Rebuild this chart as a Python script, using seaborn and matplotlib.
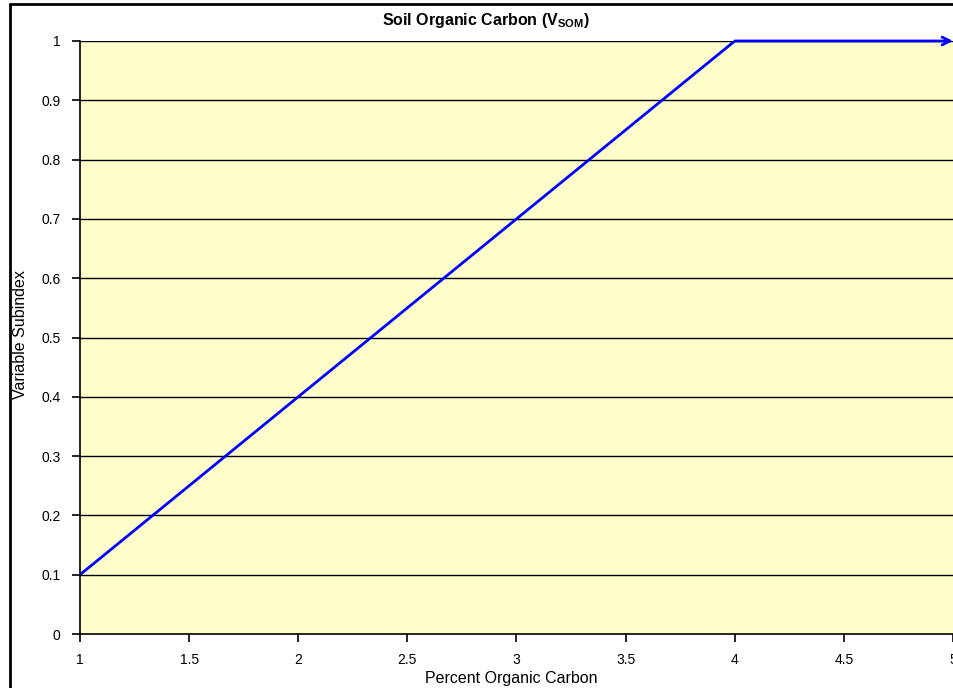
import matplotlib
matplotlib.use("Agg")
import matplotlib.pyplot as plt
import seaborn as sns
import pandas as pd

# curve breakpoints
pct_carbon = [1, 4, 5]
subindex = [0.1, 1, 1]
x_ticks = [1, 1.5, 2, 2.5, 3, 3.5, 4, 4.5, 5]
y_ticks = [0, 0.1, 0.2, 0.3, 0.4, 0.5, 0.6, 0.7, 0.8, 0.9, 1]

sns.set_theme(style="white")
plt.rcParams["font.family"] = ["Liberation Sans", "DejaVu Sans"]
plt.rcParams["mathtext.fontset"] = "custom"
plt.rcParams["mathtext.rm"] = "Liberation Sans"
plt.rcParams["mathtext.bf"] = "Liberation Sans:bold"

df = pd.DataFrame({"x": pct_carbon, "y": subindex})

f = plt.figure(figsize=(9.54, 6.88), dpi=100)
ax = f.add_axes([80 / 954, 1 - 634 / 688, (953 - 80) / 954, (634 - 41) / 688])
ax.set_facecolor("#FFFFCC")

# the last segment gets an arrow head, draw line up to it
sns.lineplot(data=df.iloc[:2], x="x", y="y", color="#0000FF", lw=2, ax=ax)
ax.annotate("", xy=(pct_carbon[2], subindex[2]), xytext=(pct_carbon[1], subindex[1]),
            arrowprops=dict(arrowstyle="->", color="#0000FF", lw=2,
                            shrinkA=0, shrinkB=0, mutation_scale=14),
            annotation_clip=False, zorder=5)

ax.set_xlim(1, 5)
ax.set_ylim(0, 1)
ax.set_xticks(x_ticks)
ax.set_xticklabels([f"{t:g}" for t in x_ticks])
ax.set_yticks(y_ticks)
ax.set_yticklabels([f"{t:g}" for t in y_ticks])
for t in y_ticks[1:]:
    ax.axhline(t, color="black", lw=1, zorder=1)

ax.tick_params(axis="both", direction="out", length=6, width=1.2, color="black",
               labelsize=10, labelcolor="black", bottom=True, left=True)
ax.tick_params(axis="x", pad=8)
ax.tick_params(axis="y", pad=8)
for s in ["top", "right"]:
    ax.spines[s].set_visible(False)
for s in ["left", "bottom"]:
    ax.spines[s].set_color("black")
    ax.spines[s].set_linewidth(1.2)

ax.set_xlabel("")
ax.set_ylabel("")
f.text(511 / 954, 1 - 678 / 688, "Percent Organic Carbon", ha="center", va="center",
       fontsize=11.5, color="black")
f.text(21 / 954, 1 - 335 / 688, "Variable Subindex", ha="center", va="center",
       rotation=90, fontsize=11.5, color="black")

f.text(486 / 954, 1 - 20 / 688, r"Soil Organic Carbon (V$_{\mathbf{SOM}}$)",
       ha="center", va="center", fontsize=11.5, fontweight="bold", color="black")

# outer chart border (cropped at right and bottom)
f.add_artist(plt.Line2D([10 / 954, 10 / 954], [0, 1 - 4 / 688], color="black", lw=2,
                        transform=f.transFigure))
f.add_artist(plt.Line2D([10 / 954, 1], [1 - 4 / 688, 1 - 4 / 688], color="black", lw=2,
                        transform=f.transFigure))

plt.savefig("out.png", dpi=100)
plt.close(f)
